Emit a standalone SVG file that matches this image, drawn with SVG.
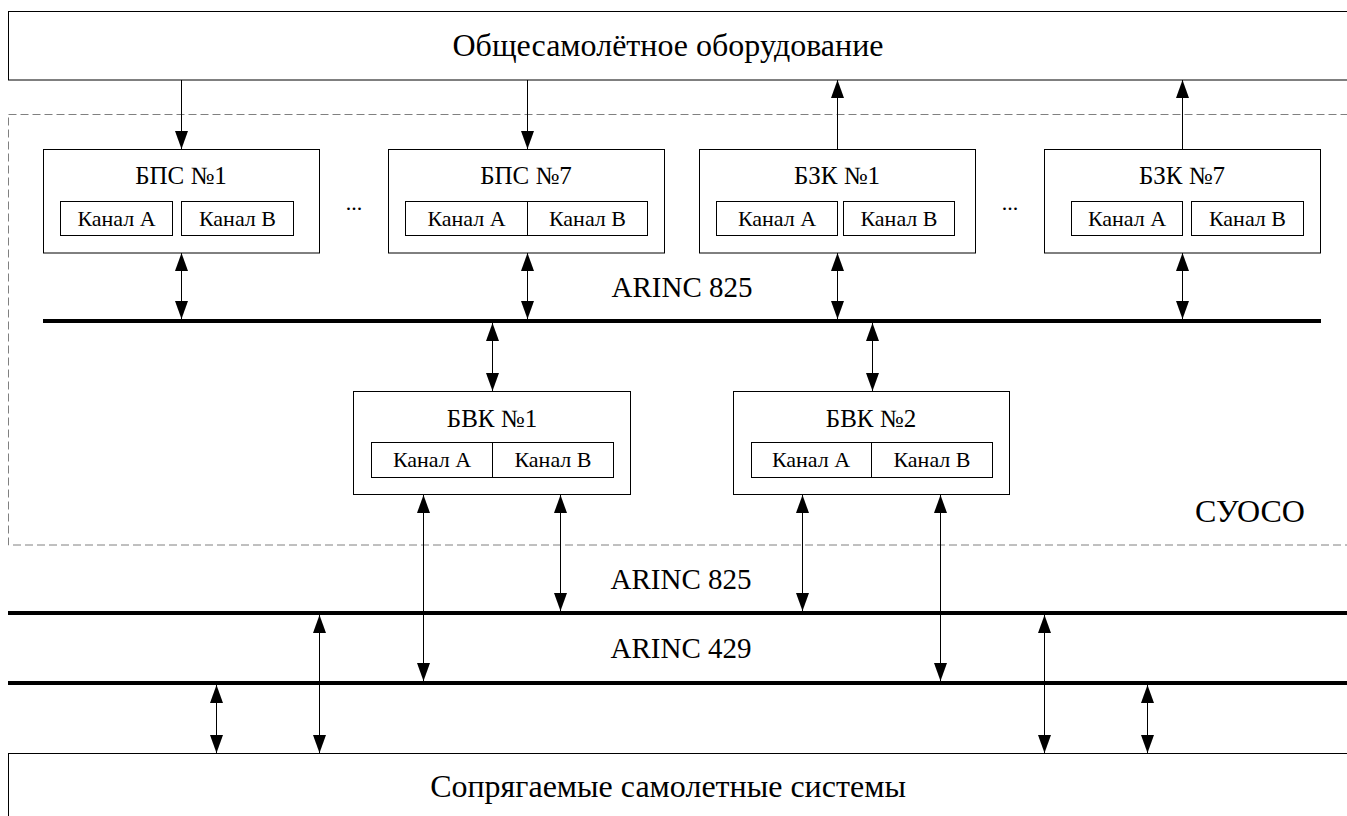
<svg xmlns="http://www.w3.org/2000/svg" width="1347" height="816" viewBox="0 0 1347 816">
<defs>
<marker id="ah" viewBox="0 0 18 13" refX="18" refY="6.5" markerWidth="18" markerHeight="13" markerUnits="userSpaceOnUse" orient="auto-start-reverse">
<path d="M0,0 L18,6.5 L0,13 z" fill="#000"/>
</marker>
<style>
.box{fill:#fff;stroke:#000;stroke-width:1}
.ch{fill:none;stroke:#000;stroke-width:1}
.t{font-family:"Liberation Serif","Times New Roman",serif;fill:#000;text-anchor:middle}
.big{font-size:32px}
.hd{font-size:25px}
.cl{font-size:22px}
.ar{font-size:29px}
.bus{stroke:#000;stroke-width:4;fill:none}
.c{stroke:#000;stroke-width:1;fill:none}
.one{marker-end:url(#ah)}
.two{marker-start:url(#ah);marker-end:url(#ah)}
</style>
</defs>
<rect width="1347" height="816" fill="#fff"/>

<g id="top">
<rect class="box" x="8.5" y="11.5" width="1345" height="68.5"/>
<text class="t big" x="668" y="56">Общесамолётное оборудование</text>
</g>

<g id="suoso">
<rect x="8.5" y="114.5" width="1345" height="430.5" fill="none" stroke="#808080" stroke-width="1" stroke-dasharray="8 4"/>
<text class="t big" x="1250" y="522">СУОСО</text>
</g>

<g id="bps1">
<rect class="box" x="43.5" y="149.5" width="276" height="103.5"/>
<text class="t hd" x="181" y="184">БПС №1</text>
<rect class="ch" x="60.5" y="201.5" width="112" height="34"/>
<rect class="ch" x="181.5" y="201.5" width="112" height="34"/>
<text class="t cl" x="116.5" y="226">Канал А</text>
<text class="t cl" x="237.5" y="226">Канал В</text>
</g>

<g id="bps7">
<rect class="box" x="388.5" y="149.5" width="276" height="103.5"/>
<text class="t hd" x="526" y="184">БПС №7</text>
<rect class="ch" x="405.5" y="201.5" width="242" height="34"/>
<line class="ch" x1="527.5" y1="201.5" x2="527.5" y2="235.5"/>
<text class="t cl" x="466.5" y="226">Канал А</text>
<text class="t cl" x="587.5" y="226">Канал В</text>
</g>

<g id="bzk1">
<rect class="box" x="699.5" y="149.5" width="276" height="103.5"/>
<text class="t hd" x="837" y="184">БЗК №1</text>
<rect class="ch" x="716.5" y="201.5" width="121" height="34"/>
<rect class="ch" x="843.5" y="201.5" width="111" height="34"/>
<text class="t cl" x="777" y="226">Канал А</text>
<text class="t cl" x="899" y="226">Канал В</text>
</g>

<g id="bzk7">
<rect class="box" x="1044.5" y="149.5" width="276" height="103.5"/>
<text class="t hd" x="1182" y="184">БЗК №7</text>
<rect class="ch" x="1071.5" y="201.5" width="111" height="34"/>
<rect class="ch" x="1191.5" y="201.5" width="112" height="34"/>
<text class="t cl" x="1127" y="226">Канал А</text>
<text class="t cl" x="1247.5" y="226">Канал В</text>
</g>

<g id="dots">
<text class="t cl" x="354" y="210">...</text>
<text class="t cl" x="1010" y="210">...</text>
</g>

<g id="bvk1">
<rect class="box" x="353.5" y="391.5" width="277" height="103"/>
<text class="t hd" x="492" y="427">БВК №1</text>
<rect class="ch" x="371.5" y="442.5" width="242" height="35"/>
<line class="ch" x1="492.5" y1="442.5" x2="492.5" y2="477.5"/>
<text class="t cl" x="432" y="467">Канал А</text>
<text class="t cl" x="553" y="467">Канал В</text>
</g>

<g id="bvk2">
<rect class="box" x="733.5" y="391.5" width="276" height="103"/>
<text class="t hd" x="871" y="427">БВК №2</text>
<rect class="ch" x="751.5" y="442.5" width="241" height="35"/>
<line class="ch" x1="871.5" y1="442.5" x2="871.5" y2="477.5"/>
<text class="t cl" x="811" y="467">Канал А</text>
<text class="t cl" x="932" y="467">Канал В</text>
</g>

<g id="bottom">
<rect class="box" x="8.5" y="753.5" width="1345" height="80"/>
<text class="t big" x="668" y="797">Сопрягаемые самолетные системы</text>
</g>

<g id="buses">
<line class="bus" x1="43" y1="321" x2="1321" y2="321"/>
<line class="bus" x1="8" y1="613" x2="1347" y2="613"/>
<line class="bus" x1="8" y1="683" x2="1347" y2="683"/>
<text class="t ar" x="682" y="297">ARINC 825</text>
<text class="t ar" x="681" y="589">ARINC 825</text>
<text class="t ar" x="681" y="658">ARINC 429</text>
</g>

<g id="connectors">
<line class="c one" x1="181.5" y1="80" x2="181.5" y2="149"/>
<line class="c one" x1="527.5" y1="80" x2="527.5" y2="149"/>
<line class="c one" x1="837.5" y1="149" x2="837.5" y2="80"/>
<line class="c one" x1="1182.5" y1="149" x2="1182.5" y2="80"/>

<line class="c two" x1="181.5" y1="253" x2="181.5" y2="319"/>
<line class="c two" x1="527.5" y1="253" x2="527.5" y2="319"/>
<line class="c two" x1="837.5" y1="253" x2="837.5" y2="319"/>
<line class="c two" x1="1182.5" y1="253" x2="1182.5" y2="319"/>

<line class="c two" x1="492.5" y1="323" x2="492.5" y2="391"/>
<line class="c two" x1="872.5" y1="323" x2="872.5" y2="391"/>

<line class="c two" x1="423.5" y1="495" x2="423.5" y2="681"/>
<line class="c two" x1="560.5" y1="495" x2="560.5" y2="611"/>
<line class="c two" x1="802.5" y1="495" x2="802.5" y2="611"/>
<line class="c two" x1="940.5" y1="495" x2="940.5" y2="681"/>

<line class="c two" x1="216.5" y1="685" x2="216.5" y2="753"/>
<line class="c two" x1="319.5" y1="615" x2="319.5" y2="753"/>
<line class="c two" x1="1044.5" y1="615" x2="1044.5" y2="753"/>
<line class="c two" x1="1147.5" y1="685" x2="1147.5" y2="753"/>
</g>
</svg>
